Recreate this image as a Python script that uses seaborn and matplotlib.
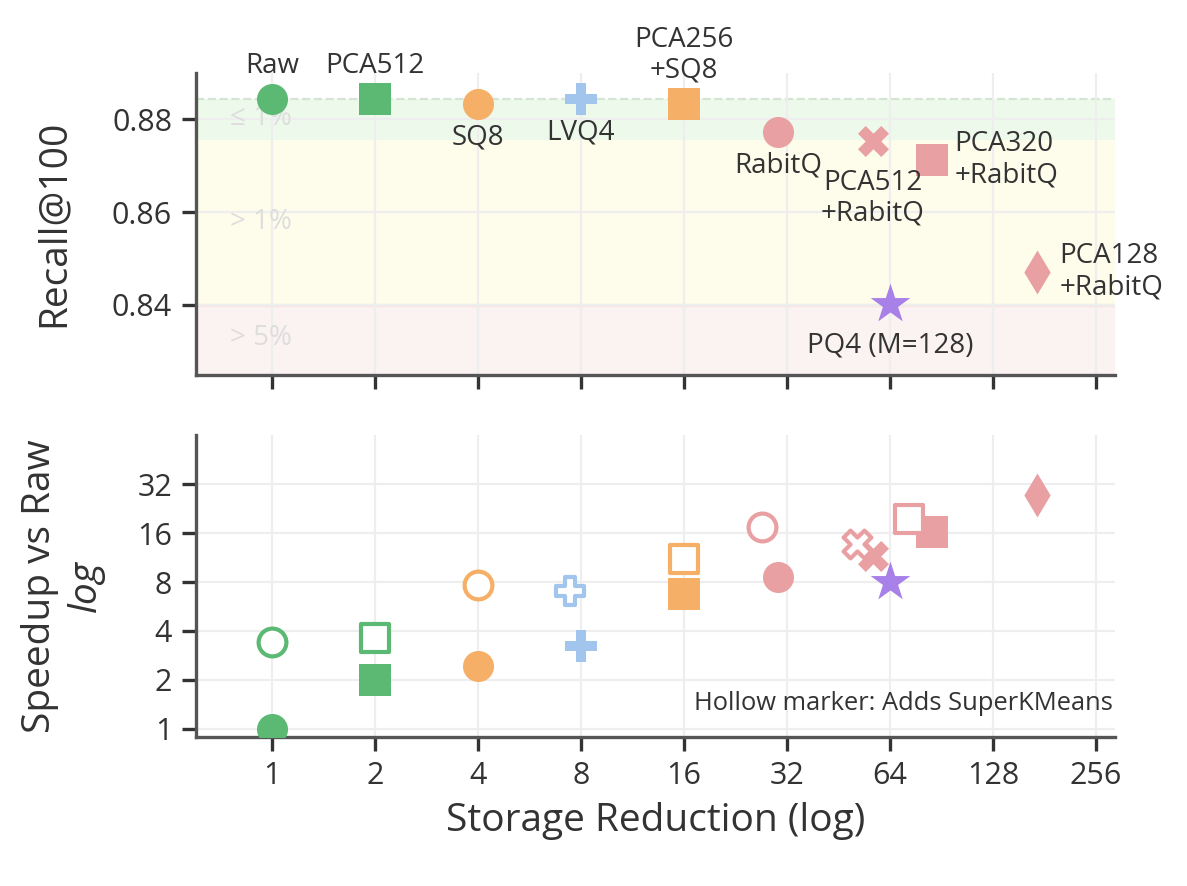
import numpy as np
import pandas as pd
import matplotlib
matplotlib.use("Agg")
import matplotlib.pyplot as plt
import seaborn as sns

# values
methods = ["Raw", "PCA512", "SQ8", "LVQ4", "PCA256\n+SQ8", "RabitQ",
           "PCA512\n+RabitQ", "PCA320\n+RabitQ", "PCA128\n+RabitQ", "PQ4 (M=128)"]
storage = [1, 2, 4, 8, 16, 30.1, 57.1, 84.9, 172, 64]
recall = [0.8843, 0.8843, 0.8832, 0.8843, 0.8832, 0.8772, 0.8753, 0.8712, 0.8471, 0.8402]
speedup = [1.0, 2.0, 2.44, 3.24, 6.75, 8.59, 11.56, 16.2, 27.4, 8.0]
# hollow markers: + SuperKMeans
skm_storage = [1, 2, 4, 7.43, 16, 27.0, 51.3, 72.7, np.nan, np.nan]
skm_speedup = [3.42, 3.62, 7.66, 7.04, 11.08, 17.4, 13.7, 19.5, np.nan, np.nan]

GREEN, ORANGE, BLUE, PINK, PURPLE = "#5BB974", "#F5AF66", "#A1C5EC", "#E9A0A2", "#A780E8"
colors = [GREEN, GREEN, ORANGE, BLUE, ORANGE, PINK, PINK, PINK, PINK, PURPLE]
markers = ["o", "s", "o", "P", "s", "o", "X", "s", "d", "*"]
# label placement: (dx pts, dy pts, ha, va)
label_pos = [(0, 7, "center", "bottom"), (0, 7, "center", "bottom"),
             (0, -7, "center", "top"), (0, -7, "center", "top"),
             (0, 7, "center", "bottom"), (0, -7, "center", "top"),
             (0, -10, "center", "top"), (8, 0, "left", "center"),
             (8, 0, "left", "center"), (0, -10, "center", "top")]

df = pd.DataFrame({"method": methods, "storage": storage, "recall": recall,
                   "speedup": speedup, "skm_storage": skm_storage,
                   "skm_speedup": skm_speedup})

sns.set_theme(style="whitegrid")
plt.rcParams["font.family"] = ["Open Sans", "DejaVu Sans"]
plt.rcParams["text.color"] = "#333333"
plt.rcParams["axes.labelcolor"] = "#333333"
plt.rcParams["xtick.color"] = "#333333"
plt.rcParams["ytick.color"] = "#333333"

fig, (ax1, ax2) = plt.subplots(2, 1, figsize=(5.935, 4.43), dpi=200, sharex=True)
fig.subplots_adjust(left=0.165, right=0.939, top=0.918, bottom=0.168, hspace=0.2)

MS = 125
raw_recall = recall[0]
ax1.axhspan(raw_recall * 0.99, raw_recall, color="#EDF9EA", zorder=0, lw=0)
ax1.axhspan(raw_recall * 0.95, raw_recall * 0.99, color="#FEFDEB", zorder=0, lw=0)
ax1.axhspan(0.80, raw_recall * 0.95, color="#FBF2F2", zorder=0, lw=0)
ax1.axhline(raw_recall * 0.95, color="#F8E6DC", lw=1.2, zorder=0.5)
ax1.axhline(raw_recall, color="#D5E5D3", lw=0.8, ls="--", zorder=0.5)
for txt, yv in [("≤ 1%", 0.8802), ("> 1%", 0.8579), ("> 5%", 0.8328)]:
    ax1.text(0.037, yv, txt, transform=ax1.get_yaxis_transform(), color="#DDDDDD",
             fontsize=10, va="center", ha="left", zorder=1)

for i, row in df.iterrows():
    size = MS * 1.8 if markers[i] == "*" else MS
    sns.scatterplot(x=[row.storage], y=[row.recall], ax=ax1, marker=markers[i],
                    color=colors[i], s=size, linewidth=0, zorder=3)
    dx, dy, ha, va = label_pos[i]
    ax1.annotate(row.method, (row.storage, row.recall), xytext=(dx, dy),
                 textcoords="offset points", ha=ha, va=va, fontsize=10,
                 color="#333333", linespacing=1.15, zorder=4)

    sns.scatterplot(x=[row.storage], y=[row.speedup], ax=ax2, marker=markers[i],
                    color=colors[i], s=size, linewidth=0, zorder=3)
    if not np.isnan(row.skm_speedup):
        ax2.scatter([row.skm_storage], [row.skm_speedup], marker=markers[i],
                    s=MS * 0.8, facecolors="white", edgecolors=colors[i],
                    linewidths=1.5, zorder=3)

ax1.set_ylim(0.825, 0.89)
ax1.set_yticks([0.84, 0.86, 0.88])
ax1.set_yticklabels(["0.84", "0.86", "0.88"])
ax1.set_ylabel("")
ax1.text(-0.155, 0.5, "Recall@100", transform=ax1.transAxes, rotation=90,
         fontsize=14, ha="center", va="center", color="#333333")

ax2.set_yscale("log", base=2)
ax2.set_ylim(0.89, 64)
ax2.set_yticks([1, 2, 4, 8, 16, 32])
ax2.set_yticklabels(["1", "2", "4", "8", "16", "32"])
ax2.set_ylabel("")
ax2.text(-0.170, 0.5, "Speedup vs Raw", transform=ax2.transAxes, rotation=90,
         fontsize=14, ha="center", va="center", color="#333333")
ax2.text(-0.120, 0.5, "log", transform=ax2.transAxes, rotation=90, style="italic",
         fontsize=14, ha="center", va="center", color="#333333")
ax2.text(0.998, 0.11, "Hollow marker: Adds SuperKMeans", transform=ax2.transAxes,
         ha="right", va="center", fontsize=9.2, color="#333333")

ax2.set_xscale("log", base=2)
ax2.set_xlim(0.6, 290)
xt = [1, 2, 4, 8, 16, 32, 64, 128, 256]
ax2.set_xticks(xt)
ax2.set_xticklabels([str(v) for v in xt])
ax2.set_xlabel("Storage Reduction (log)", fontsize=14)

for ax in (ax1, ax2):
    ax.minorticks_off()
    ax.grid(True, color="#EEEEEE", lw=0.8)
    ax.set_axisbelow(True)
    for side in ("top", "right"):
        ax.spines[side].set_visible(False)
    for side in ("left", "bottom"):
        ax.spines[side].set_color("#555555")
        ax.spines[side].set_linewidth(1.2)
    ax.tick_params(axis="both", which="major", length=5, width=1.2,
                   colors="#333333", labelsize=11, direction="out",
                   left=True, bottom=True)
ax1.tick_params(axis="x", labelbottom=False)

fig.savefig("out.png", dpi=200)
